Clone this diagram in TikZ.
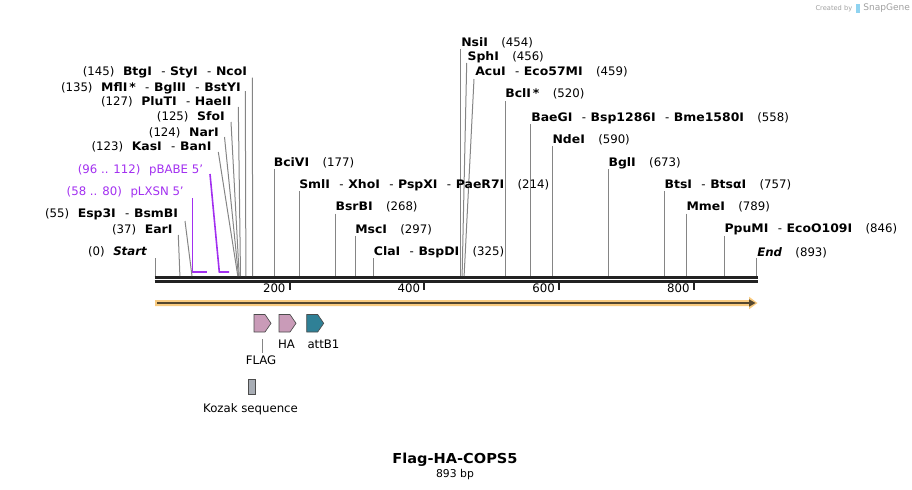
\documentclass[tikz,border=0pt]{standalone}
\usepackage{fontspec}
\setmainfont{DejaVu Sans}[BoldFeatures={FakeStretch=1.06}]
\definecolor{lgray}{HTML}{858585}
\definecolor{purp}{HTML}{A22FF0}
\definecolor{barblk}{HTML}{222222}
\definecolor{orng}{HTML}{F9CB80}
\definecolor{orngdk}{HTML}{54472F}
\definecolor{fpink}{HTML}{C99BB8}
\definecolor{fteal}{HTML}{2F8096}
\definecolor{fgray}{HTML}{A8ADB5}
\definecolor{logogray}{HTML}{A0A0A0}
\definecolor{logoblue}{HTML}{8FD3F0}
\newcommand\sepr{\hspace{7pt}-\hspace{3.5pt}}
\newcommand\gapn{\hspace{10pt}}
\newcommand\gapl{\hspace{6.5pt}}
\begin{document}
\begin{tikzpicture}[x=0.75pt,y=-0.75pt,
  lbl/.style={inner sep=0pt, font=\fontsize{8.8}{10}\selectfont},
  ll/.style={lbl,anchor=base east},
  rl/.style={lbl,anchor=base west},
  pl/.style={ll,text=purp},
  cut/.style={draw=lgray,line width=0.75pt},
  primer/.style={draw=purp,line width=1.2pt},
  barline/.style={draw=barblk,line width=2pt},
  tick/.style={draw=barblk,line width=1.5pt},
  ticklbl/.style={lbl,anchor=base east},
  feat/.style={draw=black!70,line width=0.5pt},
  flbl/.style={lbl,anchor=base}]
\useasboundingbox (0,0) rectangle (912,489);

% sequence bars
\coordinate (barL1) at (154.5,277.3); \coordinate (barR1) at (757.5,277.3);
\coordinate (barL2) at (154.5,281.3); \coordinate (barR2) at (757.5,281.3);
\draw[barline] (barL1) -- (barR1);
\draw[barline] (barL2) -- (barR2);

% ticks
\foreach \n/\x in {200/289.7,400/424.4,600/559.1,800/693.8}{
  \coordinate (tk\n a) at (\x,282.5);
  \coordinate (tk\n b) at (\x,290);
  \draw[tick] (tk\n a) -- (tk\n b);
  \node[ticklbl] (tl\n) at (\x-4,292.5) {\n};
}

% orange direction arrow
\fill[orng] (155,300) -- (749,300) -- (749,296.7) -- (757.5,303) -- (749,309.3) -- (749,306) -- (155,306) -- cycle;
\draw[draw=orngdk,line width=1.5pt] (157,303) -- (750,303);
\fill[orngdk] (749,299.3) -- (755.5,303) -- (749,306.7) -- cycle;

% ---------- left-side labels ----------
\node[ll] (L145) at (247.3,75.7) {(145)\gapl\textbf{BtgI}\sepr\textbf{StyI}\sepr\textbf{NcoI}};
\coordinate (t145) at (252.3,77.5); \coordinate (c145) at (252.7,276);
\draw[cut] (t145) -- (c145);

\node[ll] (L135) at (241,91.3) {(135)\gapl\textbf{MflI\,*}\sepr\textbf{BglII}\sepr\textbf{BstYI}};
\coordinate (t135) at (245.3,91); \coordinate (c135) at (245.9,276);
\draw[cut] (t135) -- (c135);

\node[ll] (L127) at (231.7,105.7) {(127)\gapl\textbf{PluTI}\sepr\textbf{HaeII}};
\coordinate (t127) at (238.3,107); \coordinate (c127) at (240.5,276);
\draw[cut] (t127) -- (c127);

\node[ll] (L125) at (225,120.7) {(125)\gapl\textbf{SfoI}};
\coordinate (t125) at (231,122); \coordinate (c125) at (239.2,276);
\draw[cut] (t125) -- (c125);

\node[ll] (L124) at (219,136.3) {(124)\gapl\textbf{NarI}};
\coordinate (t124) at (224.5,137); \coordinate (c124) at (238.5,276);
\draw[cut] (t124) -- (c124);

\node[ll] (L123) at (211.7,150.7) {(123)\gapl\textbf{KasI}\sepr\textbf{BanI}};
\coordinate (t123) at (218.3,152); \coordinate (c123) at (237.8,276);
\draw[cut] (t123) -- (c123);

\node[pl] (Lpb) at (203.3,173) {(96 .. 112)\gapl pBABE 5'};
\coordinate (tpb) at (210,174); \coordinate (mpb) at (219.3,272); \coordinate (epb) at (229,272);
\draw[primer] (tpb) -- (mpb) -- (epb);

\node[pl] (Lpl) at (184,195.7) {(58 .. 80)\gapl pLXSN 5'};
\coordinate (tpl) at (192.3,198); \coordinate (mpl) at (192.3,272); \coordinate (epl) at (206.7,272);
\draw[primer] (tpl) -- (mpl) -- (epl);

\node[ll] (L55) at (178.3,217.3) {(55)\gapl\textbf{Esp3I}\sepr\textbf{BsmBI}};
\coordinate (t55) at (185,221); \coordinate (c55) at (192,276);
\draw[cut] (t55) -- (c55);

\node[ll] (L37) at (172.7,233) {(37)\gapl\textbf{EarI}};
\coordinate (t37) at (178.3,235); \coordinate (c37) at (179.9,276);
\draw[cut] (t37) -- (c37);

\node[ll] (L0) at (147.3,255) {(0)\gapl\textbf{\textit{Start}}};
\coordinate (t0) at (155,258); \coordinate (c0) at (155,276);
\draw[cut] (t0) -- (c0);

% ---------- right-side labels ----------
\node[rl] (R454) at (461,46) {\textbf{NsiI}\gapn(454)};
\coordinate (t454) at (460.8,49); \coordinate (c454) at (460.8,276);
\draw[cut] (t454) -- (c454);

\node[rl] (R456) at (467.3,60.7) {\textbf{SphI}\gapn(456)};
\coordinate (t456) at (466.7,63); \coordinate (c456) at (462.1,276);
\draw[cut] (t456) -- (c456);

\node[rl] (R459) at (475,75.3) {\textbf{AcuI}\sepr\textbf{Eco57MI}\gapn(459)};
\coordinate (t459) at (474,79); \coordinate (c459) at (464.1,276);
\draw[cut] (t459) -- (c459);

\node[rl] (R520) at (505,97.5) {\textbf{BclI\,*}\gapn(520)};
\coordinate (t520) at (505.2,101); \coordinate (c520) at (505.2,276);
\draw[cut] (t520) -- (c520);

\node[rl] (R558) at (531,121) {\textbf{BaeGI}\sepr\textbf{Bsp1286I}\sepr\textbf{Bme1580I}\gapn(558)};
\coordinate (t558) at (530.8,124); \coordinate (c558) at (530.8,276);
\draw[cut] (t558) -- (c558);

\node[rl] (R590) at (552.3,143.5) {\textbf{NdeI}\gapn(590)};
\coordinate (t590) at (552.4,146); \coordinate (c590) at (552.4,276);
\draw[cut] (t590) -- (c590);

\node[rl] (R673) at (608.3,166) {\textbf{BglI}\gapn(673)};
\coordinate (t673) at (608.3,169); \coordinate (c673) at (608.3,276);
\draw[cut] (t673) -- (c673);

\node[rl] (R757) at (664.3,188) {\textbf{BtsI}\sepr\textbf{BtsαI}\gapn(757)};
\coordinate (t757) at (664.8,191); \coordinate (c757) at (664.8,276);
\draw[cut] (t757) -- (c757);

\node[rl] (R789) at (686.3,210.5) {\textbf{MmeI}\gapn(789)};
\coordinate (t789) at (686.4,213.5); \coordinate (c789) at (686.4,276);
\draw[cut] (t789) -- (c789);

\node[rl] (R846) at (724.3,232.8) {\textbf{PpuMI}\sepr\textbf{EcoO109I}\gapn(846)};
\coordinate (t846) at (724.8,236); \coordinate (c846) at (724.8,276);
\draw[cut] (t846) -- (c846);

\node[rl] (R893) at (757,256) {\textbf{\textit{End}}\gapn(893)};
\coordinate (t893) at (756.4,258); \coordinate (c893) at (756.4,276);
\draw[cut] (t893) -- (c893);

\node[rl] (R177) at (273.6,166) {\textbf{BciVI}\gapn(177)};
\coordinate (t177) at (274.2,169); \coordinate (c177) at (274.2,276);
\draw[cut] (t177) -- (c177);

\node[rl] (R214) at (299,188.5) {\textbf{SmlI}\sepr\textbf{XhoI}\sepr\textbf{PspXI}\sepr\textbf{PaeR7I}\gapn(214)};
\coordinate (t214) at (299.1,191); \coordinate (c214) at (299.1,276);
\draw[cut] (t214) -- (c214);

\node[rl] (R268) at (335.3,210.7) {\textbf{BsrBI}\gapn(268)};
\coordinate (t268) at (335.5,213.5); \coordinate (c268) at (335.5,276);
\draw[cut] (t268) -- (c268);

\node[rl] (R297) at (355,233) {\textbf{MscI}\gapn(297)};
\coordinate (t297) at (355,236); \coordinate (c297) at (355,276);
\draw[cut] (t297) -- (c297);

\node[rl] (R325) at (373.6,255.5) {\textbf{ClaI}\sepr\textbf{BspDI}\gapn(325)};
\coordinate (t325) at (373.9,258); \coordinate (c325) at (373.9,276);
\draw[cut] (t325) -- (c325);

% ---------- features ----------
\filldraw[feat,fill=fpink] (254,314.5) -- (265,314.5) -- (271,323.3) -- (265,332) -- (254,332) -- cycle;
\filldraw[feat,fill=fpink] (279,314.5) -- (290,314.5) -- (296,323.3) -- (290,332) -- (279,332) -- cycle;
\filldraw[feat,fill=fteal] (306.7,314.5) -- (317.7,314.5) -- (323.7,323.3) -- (317.7,332) -- (306.7,332) -- cycle;
\filldraw[feat,fill=fgray] (248.3,379) rectangle (255,394);

\coordinate (flagA) at (262.3,339); \coordinate (flagB) at (262.3,353);
\draw[cut] (flagA) -- (flagB);
\node[flbl] (fFLAG) at (261,364.5) {FLAG};
\node[flbl] (fHA) at (286.5,348) {HA};
\node[flbl] (fATT) at (323.5,348) {attB1};
\node[flbl] (fKOZ) at (250.5,412) {Kozak sequence};

% ---------- title ----------
\node[inner sep=0pt,anchor=base,font=\fontsize{10.3}{12}\selectfont\bfseries] (title) at (455,463) {Flag-HA-COPS5};
\node[inner sep=0pt,anchor=base,font=\fontsize{8.1}{9}\selectfont] (size) at (455,477) {893 bp};

% ---------- logo ----------
\node[inner sep=0pt,anchor=base east,text=logogray,font=\fontsize{5}{6}\selectfont] (created) at (852.5,10) {Created by};
\fill[logoblue] (856,3.5) rectangle (860,13) ;
\node[inner sep=0pt,anchor=base west,text=logogray,font=\fontsize{6.8}{8}\selectfont] (snap) at (863,11) {SnapGene};
\end{tikzpicture}
\end{document}
